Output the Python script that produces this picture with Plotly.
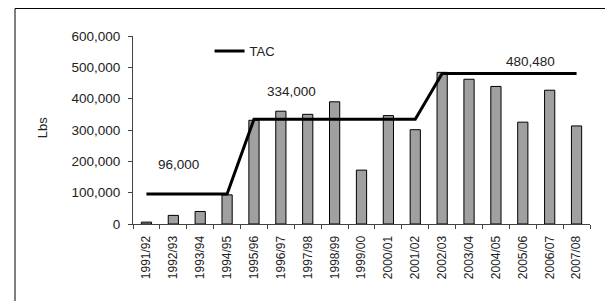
import plotly.graph_objects as go

seasons = ["1991/92", "1992/93", "1993/94", "1994/95", "1995/96", "1996/97",
           "1997/98", "1998/99", "1999/00", "2000/01", "2001/02", "2002/03",
           "2003/04", "2004/05", "2005/06", "2006/07", "2007/08"]
landings = [6000, 27500, 40000, 93000, 331000, 360000, 350000, 390000, 172000,
            346000, 301000, 484000, 462000, 439000, 325000, 427000, 313000]
tac = [96000, 96000, 96000, 96000, 334000, 334000, 334000, 334000, 334000,
       334000, 334000, 480480, 480480, 480480, 480480, 480480, 480480]
y_ticks = [0, 100000, 200000, 300000, 400000, 500000, 600000]
y_tick_labels = ["0", "100,000", "200,000", "300,000", "400,000", "500,000", "600,000"]

FONT = "Liberation Sans, Arial, sans-serif"

fig = go.Figure()
fig.add_trace(go.Bar(
    x=seasons, y=landings, showlegend=False,
    marker=dict(color="#a0a0a0", line=dict(color="#000000", width=1)),
))
fig.add_trace(go.Scatter(
    x=seasons, y=tac, mode="lines", name="TAC",
    line=dict(color="#000000", width=3),
))

annots = [
    dict(x=1.2, y=190000, text="96,000"),
    dict(x=5.4, y=424000, text="334,000"),
    dict(x=14.3, y=520000, text="480,480"),
]
for a in annots:
    fig.add_annotation(x=a["x"], y=a["y"], text=a["text"], xref="x", yref="y",
                       showarrow=False, font=dict(size=13.5, color="#222222", family=FONT))

fig.add_annotation(x=-0.199, y=0.51, xref="paper", yref="paper", text="Lbs",
                   xanchor="center", yanchor="middle",
                   textangle=-90, showarrow=False,
                   font=dict(size=13, color="#222222", family=FONT))

fig.add_shape(type="rect", xref="paper", yref="paper",
              x0=-0.2582, x1=1.0416, y0=-0.5, y1=1.1463,
              line=dict(color="#000000", width=1), fillcolor="rgba(0,0,0,0)")

fig.update_layout(
    width=605, height=293,
    margin=dict(l=125, r=23, t=28, b=77),
    paper_bgcolor="white", plot_bgcolor="white",
    bargap=0.62,
    font=dict(family=FONT, color="#222222"),
    legend=dict(x=0.1675, y=0.92, xanchor="left", yanchor="middle",
                bgcolor="rgba(0,0,0,0)", font=dict(size=13, family=FONT, color="#222222"),
                itemwidth=30),
)
fig.update_xaxes(
    type="category", tickangle=-90, tickson="boundaries",
    ticks="outside", ticklen=4, tickcolor="#444444",
    showline=True, linecolor="#444444", linewidth=1,
    tickfont=dict(size=12, family=FONT, color="#222222"),
    ticklabelstandoff=6,
    showgrid=False, automargin=False,
)
fig.update_yaxes(
    range=[0, 600000], tickvals=y_ticks, ticktext=y_tick_labels,
    ticks="outside", ticklen=4, tickcolor="#444444",
    showline=True, linecolor="#444444", linewidth=1,
    tickfont=dict(size=13.5, family=FONT, color="#222222"),
    ticklabelstandoff=5,
    showgrid=False, zeroline=False, automargin=False,
)

fig.write_html("out.html")
